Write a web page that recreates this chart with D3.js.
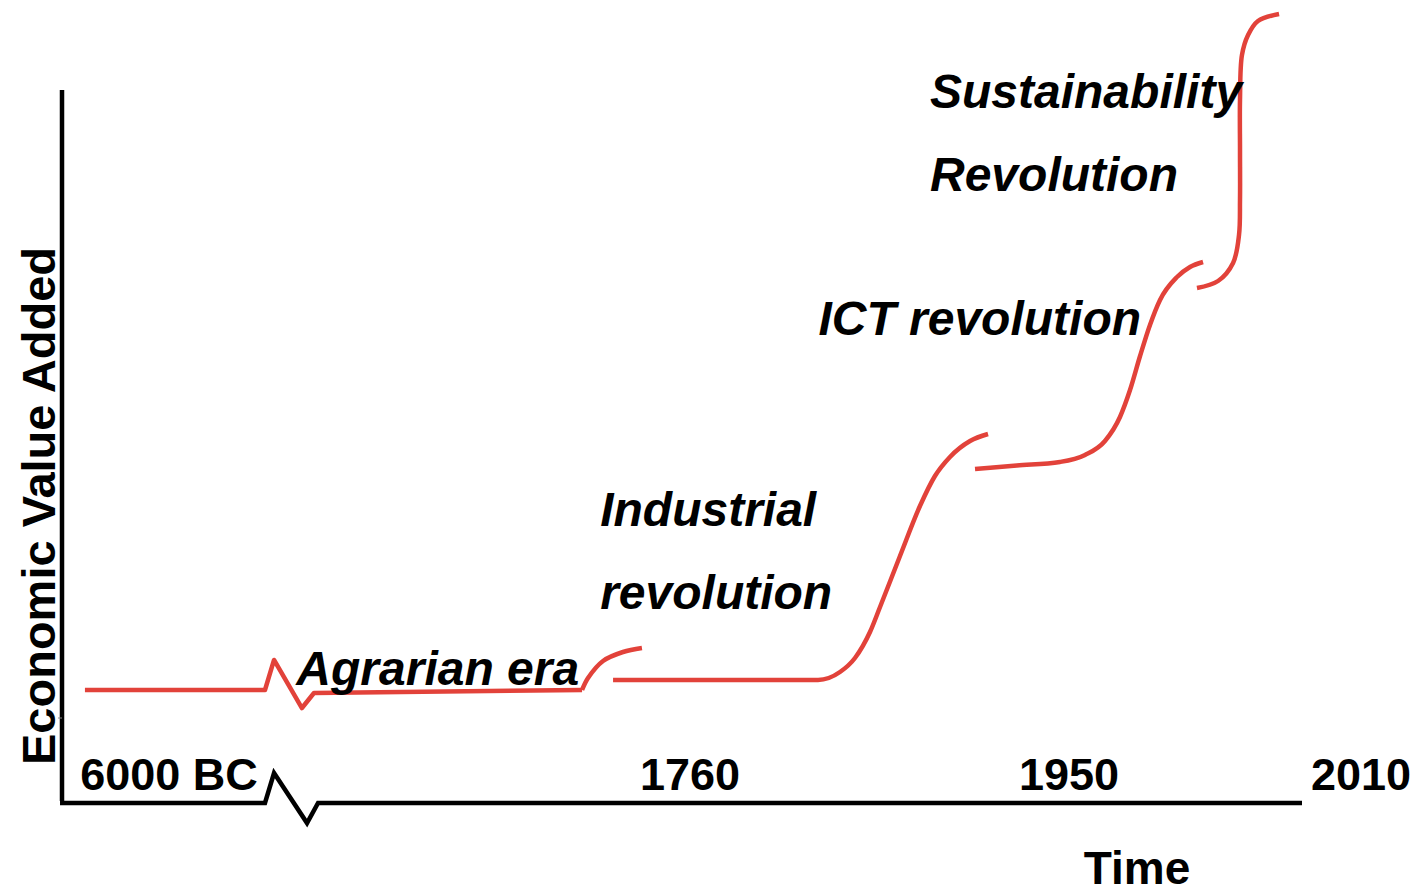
<!DOCTYPE html>
<html>
<head>
<meta charset="utf-8">
<script src="https://cdn.jsdelivr.net/npm/d3@7"></script>
<style>
  html, body { margin: 0; padding: 0; background: #fff; }
  svg { display: block; }
  text { font-family: "Liberation Sans", Arial, sans-serif; font-weight: bold; fill: #000; }
</style>
</head>
<body>
<svg id="chart" width="1415" height="894"></svg>
<script>
// ---- Data (schematic units: time index 0..100, economic value 0..100) ----
const agrarianFlat = [[1.85,15.85],[16.37,15.85],[17.10,20.06],[19.35,13.32],[20.32,15.43],[41.94,15.85]];
const agrarianRise = [[41.94,15.85],[42.42,17.53],[43.63,19.92],[45.24,21.18],[46.77,21.74]];
const industrial = [[44.44,17.25],[52.70,17.25],[58.50,17.25],[60.97,17.25],[62.74,18.37],[63.95,20.34],[65.16,23.98],[65.97,27.49],[67.58,34.64],[69.19,41.65],[70.40,45.86],[71.61,48.53],[73.23,50.77],[74.68,51.75]];
const ict = [[73.63,46.84],[77.00,47.33],[80.48,47.83],[82.50,48.81],[84.11,50.77],[85.32,54.14],[86.13,57.92],[86.94,62.69],[87.74,67.04],[88.55,70.55],[89.92,73.77],[90.97,75.18],[92.02,75.88]];
const sustainability = [[91.53,72.23],[93.23,73.21],[94.44,75.74],[94.92,79.66],[95.0,84.57],[95.0,91.6],[95.0,98.6],[95.16,104.91],[95.65,107.71],[96.45,109.68],[98.15,110.66]];
const xAxisPath = [[-0.16,0],[16.37,0],[17.10,4.21],[19.76,-2.81],[20.65,0],[100,0]];
const tickLabels = ["6000 BC","1760","1950","2010"];
const tickPositions = [8.63,50.65,81.21,104.76];
const eraLabels = [
  {lines:["Agrarian era"], x:18.9, y:16.5},
  {lines:["Industrial","revolution"], x:43.4, y:38.9},
  {lines:["ICT revolution"], x:61.0, y:65.6},
  {lines:["Sustainability","Revolution"], x:70.0, y:97.5}
];
const yAxisTitle = "Economic Value Added";
const xAxisTitle = "Time";

// ---- Scales ----
const svg = d3.select("#chart");
const x = d3.scaleLinear().domain([0,100]).range([62,1302]);
const y = d3.scaleLinear().domain([0,100]).range([803,90]);
const red = "#e2423a";

// axes
svg.append("line").attr("x1",x(0)).attr("x2",x(0)).attr("y1",y(100)).attr("y2",y(0)-2)
  .attr("stroke","#000").attr("stroke-width",4.5);
svg.append("line").attr("x1",x(0)-4).attr("x2",x(0)).attr("y1",y(11.92)).attr("y2",y(11.92))
  .attr("stroke","#888").attr("stroke-width",1);
const lin = d3.line().x(d=>x(d[0])).y(d=>y(d[1])).curve(d3.curveLinear);
svg.append("path").attr("d",lin(xAxisPath)).attr("fill","none")
  .attr("stroke","#000").attr("stroke-width",4.5).attr("stroke-linejoin","miter");

// tick labels
svg.selectAll("text.tick").data(tickLabels).join("text").attr("class","tick")
  .attr("x",(d,i)=>x(tickPositions[i])).attr("y",790)
  .attr("text-anchor","middle").attr("font-size",45).text(d=>d);

// axis titles
svg.append("text").attr("x",1137).attr("y",884).attr("text-anchor","middle")
  .attr("font-size",46).text(xAxisTitle);
svg.append("text").attr("transform","translate(55,506) rotate(-90)").attr("text-anchor","middle")
  .attr("font-size",47).text(yAxisTitle);

// curves
const smooth = d3.line().x(d=>x(d[0])).y(d=>y(d[1])).curve(d3.curveCatmullRom.alpha(0.5));
const mono = d3.line().x(d=>x(d[0])).y(d=>y(d[1])).curve(d3.curveMonotoneX);
const seg = (data, gen) => svg.append("path").attr("d",gen(data)).attr("fill","none")
  .attr("stroke",red).attr("stroke-width",4.5).attr("stroke-linejoin","round");
seg(agrarianFlat, lin);
seg(agrarianRise, smooth);
seg(industrial, mono);
seg(ict, mono);
seg(sustainability, smooth);

// era labels
eraLabels.forEach(l => {
  l.lines.forEach((t,i) => {
    svg.append("text").attr("x",x(l.x)).attr("y",y(l.y)+i*83)
      .attr("font-size",48).attr("font-style","italic").text(t);
  });
});
</script>
</body>
</html>
